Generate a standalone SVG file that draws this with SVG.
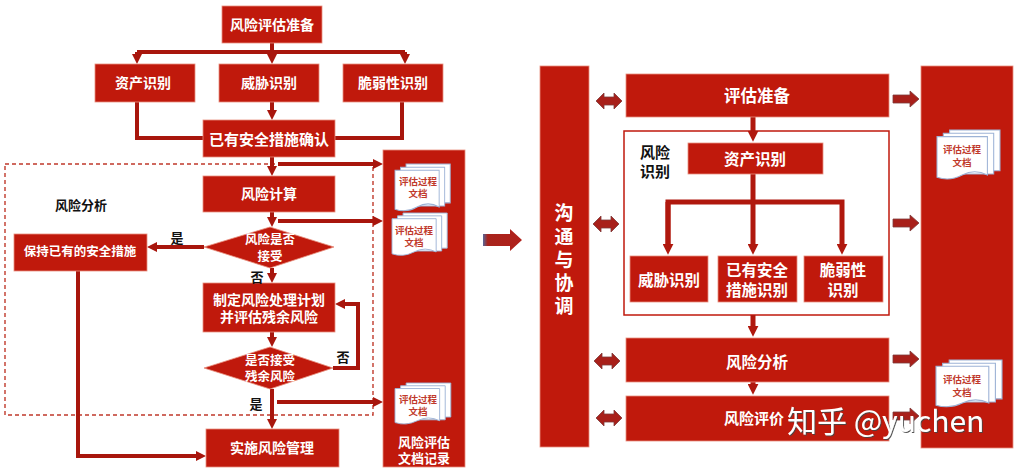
<svg xmlns="http://www.w3.org/2000/svg" xmlns:xlink="http://www.w3.org/1999/xlink" width="1015" height="469" viewBox="0 0 1015 469">
<style>
.box{fill:#C0190C;stroke:#E8907F;stroke-width:0.8}
.t{font-family:"Liberation Sans","Noto Sans CJK SC",sans-serif;font-weight:bold;fill:#fff;text-anchor:middle;dominant-baseline:central}
.k{font-family:"Liberation Sans","Noto Sans CJK SC",sans-serif;font-weight:bold;fill:#111;text-anchor:middle;dominant-baseline:central}
.dt{font-family:"Liberation Sans","Noto Sans CJK SC",sans-serif;font-weight:bold;fill:#C0392B;text-anchor:middle;dominant-baseline:central;font-size:9.5px}
.ln{fill:none;stroke:#A8160D;stroke-width:4}
.lnR{fill:none;stroke:#B0180E;stroke-width:5}
.ba{fill:#A8201A;stroke:#7E3A3A;stroke-width:0.8}
.pg{fill:#fff;stroke:#9DB3D6;stroke-width:1}
</style>
<defs>
<marker id="ah" viewBox="0 0 10 10" refX="2" refY="5" markerWidth="10" markerHeight="10" markerUnits="userSpaceOnUse" orient="auto"><path d="M0,0 L10,5 L0,10 Z" fill="#A8160D"/></marker>
<marker id="ahR" viewBox="0 0 10 10" refX="2" refY="5" markerWidth="11" markerHeight="11" markerUnits="userSpaceOnUse" orient="auto"><path d="M0,0 L10,5 L0,10 Z" fill="#B0180E"/></marker>
<g id="docpg">
<path class="pg" d="M12,0 H60 V37 H12 Z"/>
<path class="pg" d="M6,3 H54 V40 H6 Z"/>
<path class="pg" d="M0,6 H48 V41 Q36,35 24,41 T0,43 Z"/>
</g>
<path id="dbl" d="M-13,0 L-5,-8 V-4 H5 V-8 L13,0 L5,8 V4 H-5 V8 Z"/>
<path id="rgt" d="M-13,-4 H4 V-8 L13,0 L4,8 V4 H-13 Z"/>
<linearGradient id="bg" x1="0" y1="0" x2="1" y2="0">
<stop offset="0" stop-color="#55679A"/><stop offset="0.12" stop-color="#A8241C"/><stop offset="1" stop-color="#B0201A"/>
</linearGradient>
<filter id="sh" x="-5%" y="-20%" width="110%" height="140%"><feDropShadow dx="1" dy="1" stdDeviation="0.7" flood-color="#444" flood-opacity="0.9"/></filter>
</defs>

<!-- LEFT FLOWCHART -->
<rect x="5" y="164" width="368" height="251" fill="none" stroke="#C0392B" stroke-width="1.4" stroke-dasharray="4,3"/>

<g id="connectors-left">
<path class="ln" d="M137,52 H405"/>
<path class="ln" d="M272,43 V56" marker-end="url(#ah)"/>
<path class="ln" d="M137,52 V56" marker-end="url(#ah)"/>
<path class="ln" d="M405,52 V56" marker-end="url(#ah)"/>
<path class="ln" d="M137,102 V138 H203"/>
<path class="ln" d="M402,102 V138 H335"/>
<path class="ln" d="M272,102 V112" marker-end="url(#ah)"/>
<path class="ln" d="M272,157 V168" marker-end="url(#ah)"/>
<path class="ln" d="M278,164 H375" marker-end="url(#ah)"/>
<path class="ln" d="M272,212 V219" marker-end="url(#ah)"/>
<path class="ln" d="M278,221 H375" marker-end="url(#ah)"/>
<path class="ln" d="M204,247 H155" marker-end="url(#ah)"/>
<path class="ln" d="M272,268 V275" marker-end="url(#ah)"/>
<path class="ln" d="M272,332 V339" marker-end="url(#ah)"/>
<path class="ln" d="M333,368 H358 V304 H343" marker-end="url(#ah)"/>
<path class="ln" d="M272,389 V421" marker-end="url(#ah)"/>
<path class="ln" d="M277,402 H375" marker-end="url(#ah)"/>
<path class="ln" d="M78,271 V456 H198" marker-end="url(#ah)"/>
</g>

<g id="prep"><rect class="box" x="222" y="6" width="100" height="37"/><text class="t" x="272" y="25" font-size="14">风险评估准备</text></g>
<g id="asset"><rect class="box" x="95" y="64" width="100" height="38"/><text class="t" x="143" y="83" font-size="14">资产识别</text></g>
<g id="threat"><rect class="box" x="219" y="64" width="100" height="38"/><text class="t" x="269" y="83" font-size="14">威胁识别</text></g>
<g id="vuln"><rect class="box" x="343" y="64" width="100" height="38"/><text class="t" x="393" y="83" font-size="14">脆弱性识别</text></g>
<g id="confirm"><rect class="box" x="203" y="120" width="132" height="37"/><text class="t" x="269" y="139" font-size="15">已有安全措施确认</text></g>
<g id="calc"><rect class="box" x="203" y="176" width="132" height="36"/><text class="t" x="269" y="194" font-size="14">风险计算</text></g>
<g id="accept1"><polygon class="box" points="270,227 334,247 270,268 204,247"/><text class="t" x="270" y="240" font-size="12.5">风险是否</text><text class="t" x="270" y="257" font-size="12.5">接受</text></g>
<g id="keep"><rect class="box" x="14" y="234" width="133" height="37"/><text class="t" x="80" y="252" font-size="12.5">保持已有的安全措施</text></g>
<g id="plan"><rect class="box" x="203" y="283" width="132" height="49"/><text class="t" x="269" y="300" font-size="14">制定风险处理计划</text><text class="t" x="269" y="317" font-size="14">并评估残余风险</text></g>
<g id="accept2"><polygon class="box" points="270,347 333,368 270,389 204,368"/><text class="t" x="270" y="361" font-size="12.5">是否接受</text><text class="t" x="270" y="377" font-size="12.5">残余风险</text></g>
<g id="impl"><rect class="box" x="206" y="429" width="133" height="38"/><text class="t" x="272" y="448" font-size="14">实施风险管理</text></g>

<g id="labels-left">
<text class="k" x="81" y="205" font-size="13">风险分析</text>
<text class="k" x="177" y="238" font-size="13">是</text>
<text class="k" x="257" y="277" font-size="13">否</text>
<text class="k" x="343" y="357" font-size="13">否</text>
<text class="k" x="256" y="404" font-size="13">是</text>
</g>

<g id="docpanel-left">
<rect class="box" x="383" y="150" width="82" height="317"/>
<use xlink:href="#docpg" transform="translate(395,164) scale(0.92,1.05)"/>
<text class="dt" x="418" y="181">评估过程</text><text class="dt" x="418" y="193">文档</text>
<use xlink:href="#docpg" transform="translate(392,213) scale(0.92,0.95)"/>
<text class="dt" x="414" y="230">评估过程</text><text class="dt" x="414" y="242">文档</text>
<use xlink:href="#docpg" transform="translate(395,383) scale(0.93,0.92)"/>
<text class="dt" x="418" y="399">评估过程</text><text class="dt" x="418" y="411">文档</text>
<text class="t" x="424" y="442" font-size="13">风险评估</text>
<text class="t" x="424" y="458" font-size="13">文档记录</text>
</g>

<!-- BIG ARROW -->
<g id="bigarrow"><path d="M483,234 H510 V229 L522,240 L510,251 V246 H483 Z" fill="url(#bg)"/></g>

<!-- RIGHT FRAMEWORK -->
<g id="comm"><rect class="box" x="540" y="66" width="49" height="381"/>
<text class="t" x="564" y="213" font-size="19">沟</text>
<text class="t" x="564" y="237" font-size="19">通</text>
<text class="t" x="564" y="260" font-size="19">与</text>
<text class="t" x="564" y="283" font-size="19">协</text>
<text class="t" x="564" y="306" font-size="19">调</text>
</g>

<g id="arrows-side">
<use xlink:href="#dbl" class="ba" x="609" y="101"/>
<use xlink:href="#dbl" class="ba" x="606" y="224"/>
<use xlink:href="#dbl" class="ba" x="607" y="361"/>
<use xlink:href="#dbl" class="ba" x="609" y="418"/>
<use xlink:href="#rgt" class="ba" x="906" y="99"/>
<use xlink:href="#rgt" class="ba" x="906" y="223"/>
<use xlink:href="#rgt" class="ba" x="906" y="359"/>
<use xlink:href="#rgt" class="ba" x="906" y="416"/>
</g>

<g id="riskid-frame"><rect x="624" y="131" width="265" height="184" fill="#fff" stroke="#C0190C" stroke-width="1.5"/>
<text class="k" x="655" y="152" font-size="15">风险</text><text class="k" x="655" y="171" font-size="15">识别</text></g>

<g id="connectors-right">
<path class="lnR" d="M753,117 V133" marker-end="url(#ahR)"/>
<path class="lnR" d="M753,174 V246" marker-end="url(#ahR)"/>
<path class="lnR" d="M668,246 V202 H842 V246" marker-end="url(#ahR)"/>
<path class="lnR" d="M668,202 V246" marker-end="url(#ahR)"/>
<path class="lnR" d="M753,315 V328" marker-end="url(#ahR)"/>
<path class="lnR" d="M753,382 V386" marker-end="url(#ahR)"/>
</g>

<g id="eval-prep"><rect class="box" x="626" y="74" width="263" height="43"/><text class="t" x="757" y="96" font-size="16.5">评估准备</text></g>
<g id="asset-r"><rect class="box" x="688" y="143" width="135" height="31"/><text class="t" x="755" y="159" font-size="15.5">资产识别</text></g>
<g id="threat-r"><rect class="box" x="630" y="256" width="78" height="46"/><text class="t" x="669" y="280" font-size="15.5">威胁识别</text></g>
<g id="control-r"><rect class="box" x="718" y="256" width="79" height="46"/><text class="t" x="757" y="270" font-size="15.5">已有安全</text><text class="t" x="757" y="290" font-size="15.5">措施识别</text></g>
<g id="vuln-r"><rect class="box" x="804" y="256" width="79" height="46"/><text class="t" x="843" y="270" font-size="15.5">脆弱性</text><text class="t" x="843" y="290" font-size="15.5">识别</text></g>
<g id="analysis-r"><rect class="box" x="626" y="338" width="263" height="44"/><text class="t" x="757" y="362" font-size="15.5">风险分析</text></g>
<g id="evaluate-r"><rect class="box" x="626" y="396" width="263" height="45"/><text class="t" x="754" y="418" font-size="15">风险评价</text></g>

<g id="docpanel-right">
<rect class="box" x="921" y="66" width="92" height="382"/>
<use xlink:href="#docpg" transform="translate(937,130) scale(1.05,1.1)"/>
<text class="dt" x="962" y="149" font-size="10.5">评估过程</text><text class="dt" x="962" y="162" font-size="10.5">文档</text>
<use xlink:href="#docpg" transform="translate(936,360) scale(1.1,1.05)"/>
<text class="dt" x="962" y="379" font-size="10.5">评估过程</text><text class="dt" x="962" y="392" font-size="10.5">文档</text>
</g>

<text x="787" y="432" font-family="Noto Sans CJK SC, Noto Sans, sans-serif" font-size="30" fill="#fff" filter="url(#sh)">知乎 @yuchen</text>
</svg>
